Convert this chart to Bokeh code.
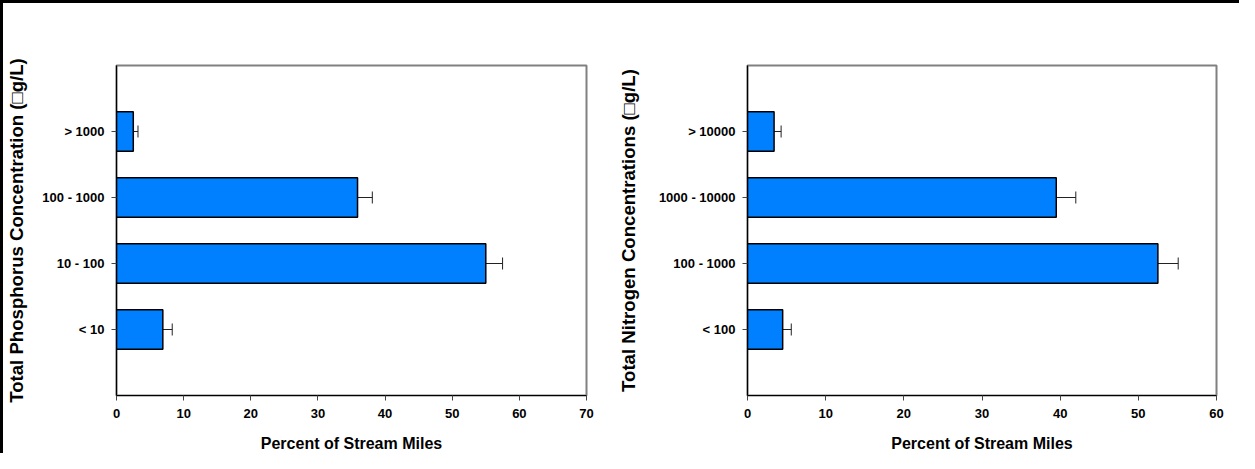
from bokeh.plotting import figure
from bokeh.models import Range1d, FixedTicker, Whisker, ColumnDataSource, TeeHead
from bokeh.layouts import row
from bokeh.embed import file_html
from bokeh.resources import INLINE

# ---- data ----
p_categories = ["< 10", "10 - 100", "100 - 1000", "> 1000"]
p_values = [6.9, 55.0, 35.9, 2.5]
p_upper = [8.3, 57.5, 38.1, 3.2]
p_xticks = [0, 10, 20, 30, 40, 50, 60, 70]

n_categories = ["< 100", "100 - 1000", "1000 - 10000", "> 10000"]
n_values = [4.5, 52.5, 39.5, 3.4]
n_upper = [5.6, 55.1, 42.0, 4.3]
n_xticks = [0, 10, 20, 30, 40, 50, 60]

p_ytitle = "Total Phosphorus Concentration (\u25a1g/L)"
n_ytitle = "Total Nitrogen Concentrations (\u25a1g/L)"
xtitle = "Percent of Stream Miles"

FONT = "Liberation Sans"
BAR = "#0080FF"
FIG_H = 462


def make(cats, vals, upper, xticks, ytitle, width, mbl, mbr, mbt, mbb, ystand):
    pos = [i + 1 for i in range(len(cats))]
    src = ColumnDataSource(dict(y=pos, v=vals, up=upper))
    p = figure(width=width, height=FIG_H, output_backend="svg", toolbar_location=None,
               x_range=Range1d(0, xticks[-1]), y_range=Range1d(0, len(cats) + 1),
               min_border_left=mbl, min_border_right=mbr, min_border_top=mbt,
               min_border_bottom=mbb)
    p.hbar(y="y", right="v", left=0, height=0.6, source=src, fill_color=BAR,
           line_color="black", line_width=1.5)
    w = Whisker(source=src, base="y", lower="v", upper="up", dimension="width",
                line_color="#222222", line_width=1, lower_head=None,
                upper_head=TeeHead(size=12, line_color="#222222", line_width=1))
    p.add_layout(w)
    p.xgrid.visible = False
    p.ygrid.visible = False
    p.outline_line_color = "#808080"
    p.outline_line_width = 2
    p.background_fill_color = "white"
    p.border_fill_color = "white"

    p.xaxis.ticker = FixedTicker(ticks=xticks)
    p.yaxis.ticker = FixedTicker(ticks=pos)
    p.yaxis.major_label_overrides = {q: c for q, c in zip(pos, cats)}
    for ax in (p.xaxis[0], p.yaxis[0]):
        ax.axis_line_color = "black"
        ax.axis_line_width = 1.2
        ax.major_tick_line_color = "#444444"
        ax.major_tick_in = 0
        ax.major_tick_out = 5
        ax.minor_tick_line_color = None
        ax.major_label_text_font = FONT
        ax.major_label_text_font_style = "bold"
        ax.major_label_text_font_size = "13px"
        ax.major_label_text_color = "black"
        ax.axis_label_text_font = FONT
        ax.axis_label_text_font_style = "bold"
        ax.axis_label_text_color = "black"
    p.xaxis.axis_label = xtitle
    p.xaxis.axis_label_text_font_size = "16px"
    p.xaxis.major_label_standoff = 8
    p.xaxis.axis_label_standoff = 14
    p.yaxis.axis_label = ytitle
    p.yaxis.axis_label_text_font_size = "18.6px"
    p.yaxis.major_label_standoff = 7
    p.yaxis.axis_label_standoff = ystand
    return p


p1 = make(p_categories, p_values, p_upper, p_xticks, p_ytitle, 611, 112, 28, 60, 70, 12)
p2 = make(n_categories, n_values, n_upper, n_xticks, n_ytitle, 625, 131, 23, 62, 68, 17)

layout = row(p1, p2,
             styles={"border-left": "3px solid black", "border-top": "3px solid black",
                     "max-height": "453px", "overflow": "hidden"})

open("out.html", "w").write(file_html(layout, INLINE))
